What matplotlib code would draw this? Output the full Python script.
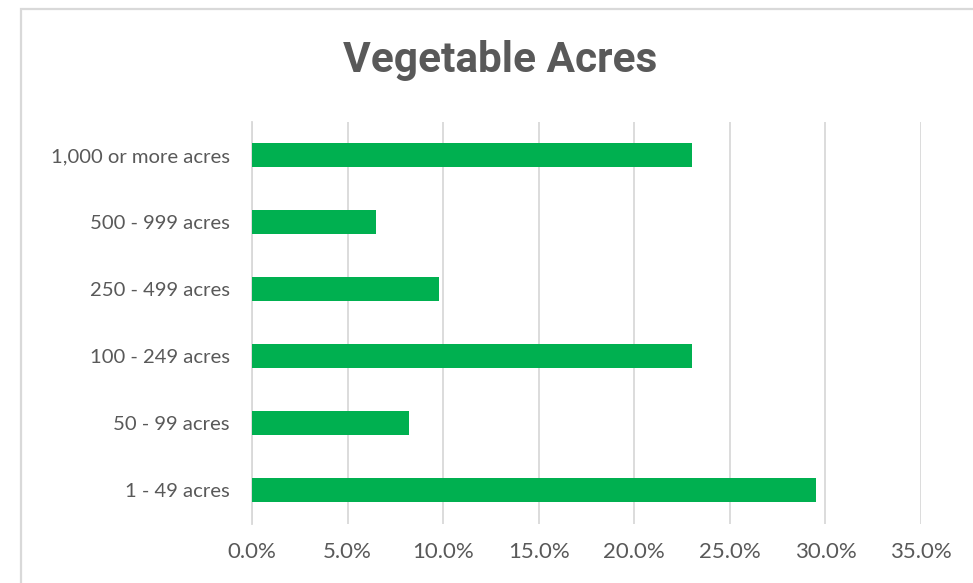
import matplotlib.pyplot as plt
from matplotlib.patches import Rectangle
from matplotlib.ticker import FuncFormatter

# data
categories = ["1 - 49 acres", "50 - 99 acres", "100 - 249 acres",
              "250 - 499 acres", "500 - 999 acres", "1,000 or more acres"]
shares = [29.5, 8.2, 23.0, 9.8, 6.5, 23.0]
x_ticks = [0, 5, 10, 15, 20, 25, 30, 35]

grey = "#595959"
grid = "#d9d9d9"

fig = plt.figure(figsize=(9.73, 5.83), dpi=100)
ax = fig.add_axes([0.259, 0.102, 0.6876, 0.6895])

ypos = range(len(categories))
ax.barh(ypos, shares, height=0.36, color="#00B050", zorder=3)

ax.set_xlim(0, 35)
ax.set_ylim(-0.5, len(categories) - 0.5)
ax.set_xticks(x_ticks)
ax.xaxis.set_major_formatter(FuncFormatter(lambda v, p: f"{v:.1f}%"))
ax.set_yticks(list(ypos))
ax.set_yticklabels(categories)

for lbl in ax.get_yticklabels():
    lbl.set_fontfamily("Lato")
    lbl.set_fontsize(14.6)
    lbl.set_color(grey)
for lbl in ax.get_xticklabels():
    lbl.set_fontfamily("Lato")
    lbl.set_fontsize(16)
    lbl.set_color(grey)

ax.tick_params(axis="both", length=0)
ax.tick_params(axis="y", pad=16)
ax.tick_params(axis="x", pad=13)
ax.grid(axis="x", color=grid, linewidth=1.3, zorder=0)
for s in ["top", "right", "bottom"]:
    ax.spines[s].set_visible(False)
ax.spines["left"].set_color(grid)
ax.spines["left"].set_linewidth(1.3)

fig.text(0.514, 0.897, "Vegetable Acres", ha="center", va="center",
         fontsize=30.5, fontweight="bold", family="Roboto", color=grey)

# chart border (cropped on right and bottom)
fig.patches.append(Rectangle((21 / 973, -0.1), 1.2, 1 - 9 / 583 + 0.1,
                             transform=fig.transFigure, fill=False,
                             edgecolor=grid, linewidth=1.6))

fig.savefig("out.png", dpi=100)
